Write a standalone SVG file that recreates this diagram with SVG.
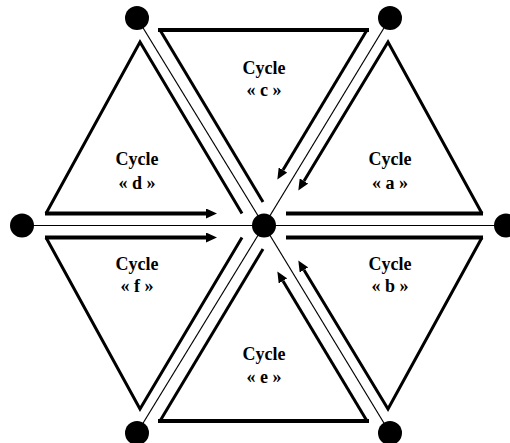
<svg xmlns="http://www.w3.org/2000/svg" width="510" height="443" viewBox="0 0 510 443">
<style>
.spoke{stroke:#000;stroke-width:1.2;fill:none}
.edge{stroke:#000;stroke-width:3;fill:none;stroke-linejoin:miter;stroke-miterlimit:10}
.hedge{stroke:#000;stroke-width:4;fill:none}
.dot{fill:#000}
.lbl{font-family:"Liberation Serif","Times New Roman",serif;font-weight:bold;font-size:18px;text-anchor:middle;fill:#000}
</style>
<defs>
<marker id="ah" markerUnits="userSpaceOnUse" markerWidth="11" markerHeight="10" refX="0" refY="5" orient="auto">
<path d="M0,0 L11,5 L0,10 z" fill="#000"/>
</marker>
</defs>
<rect width="510" height="443" fill="#fff"/>
<g id="connectors">
<line class="spoke" x1="264" y1="225.5" x2="137" y2="18"/>
<line class="spoke" x1="264" y1="225.5" x2="390" y2="18"/>
<line class="spoke" x1="264" y1="225.5" x2="22" y2="225.5"/>
<line class="spoke" x1="264" y1="225.5" x2="506" y2="225.5"/>
<line class="spoke" x1="264" y1="225.5" x2="137" y2="433"/>
<line class="spoke" x1="264" y1="225.5" x2="390" y2="433"/>
</g>
<g id="cycle-c">
<line class="hedge" x1="158" y1="30" x2="369" y2="30"/>
<line class="edge" x1="160" y1="30" x2="263" y2="202"/>
<line class="edge" x1="367" y1="30" x2="283" y2="170" marker-end="url(#ah)"/>
<text class="lbl" x="264" y="74">Cycle</text>
<text class="lbl" x="264" y="96">« c »</text>
</g>
<g id="cycle-e">
<line class="hedge" x1="158" y1="421" x2="369" y2="421"/>
<line class="edge" x1="160" y1="421" x2="263" y2="249"/>
<line class="edge" x1="367" y1="421" x2="283" y2="281" marker-end="url(#ah)"/>
<text class="lbl" x="264" y="360">Cycle</text>
<text class="lbl" x="264" y="383">« e »</text>
</g>
<g id="cycle-a">
<line class="hedge" x1="286" y1="213.5" x2="483" y2="213.5"/>
<polyline class="edge" points="482,213.5 388,42 304,181" marker-end="url(#ah)"/>
<text class="lbl" x="390" y="165">Cycle</text>
<text class="lbl" x="390" y="189">« a »</text>
</g>
<g id="cycle-b">
<line class="hedge" x1="286" y1="237.5" x2="483" y2="237.5"/>
<polyline class="edge" points="482,237.5 388,409 304,270" marker-end="url(#ah)"/>
<text class="lbl" x="390" y="270">Cycle</text>
<text class="lbl" x="390" y="292">« b »</text>
</g>
<g id="cycle-d">
<polyline class="edge" points="242,213.5 140,42 46,213.5"/>
<line class="hedge" x1="45" y1="213.5" x2="206" y2="213.5" marker-end="url(#ah)"/>
<text class="lbl" x="137" y="165">Cycle</text>
<text class="lbl" x="137" y="189">« d »</text>
</g>
<g id="cycle-f">
<polyline class="edge" points="242,237.5 140,409 46,237.5"/>
<line class="hedge" x1="45" y1="237.5" x2="206" y2="237.5" marker-end="url(#ah)"/>
<text class="lbl" x="137" y="270">Cycle</text>
<text class="lbl" x="137" y="292">« f »</text>
</g>
<g id="node-center"><circle class="dot" cx="264" cy="225.5" r="12"/></g>
<g id="node-tl"><circle class="dot" cx="137" cy="18" r="12"/></g>
<g id="node-tr"><circle class="dot" cx="390" cy="18" r="12"/></g>
<g id="node-l"><circle class="dot" cx="22" cy="225.5" r="12"/></g>
<g id="node-r"><circle class="dot" cx="506" cy="225.5" r="12"/></g>
<g id="node-bl"><circle class="dot" cx="137" cy="433" r="12"/></g>
<g id="node-br"><circle class="dot" cx="390" cy="433" r="12"/></g>
</svg>
